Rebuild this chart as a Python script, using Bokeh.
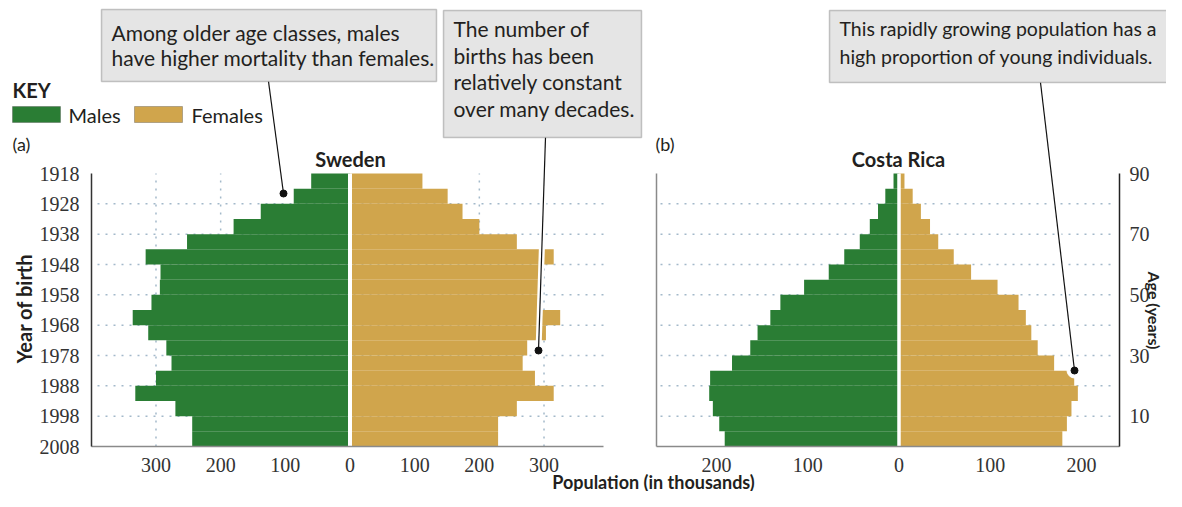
import math
from bokeh.plotting import figure
from bokeh.models import FixedTicker, LinearAxis, Range1d, BoxAnnotation, Label, ColumnDataSource
from bokeh.embed import file_html
from bokeh.resources import INLINE

# ---------------- data (thousands), age bins from youngest to oldest ----------------
age_lo = [0, 5, 10, 15, 20, 25, 30, 35, 40, 45, 50, 55, 60, 65, 70, 75, 80, 85]
age_hi = [5, 10, 15, 20, 25, 30, 35, 40, 45, 50, 55, 60, 65, 70, 75, 80, 85, 90]

sweden_males = [244, 244, 270, 332, 300, 276, 284, 312, 336, 307, 294, 293, 316, 252, 180, 138, 87, 60]
sweden_females = [229, 229, 258, 315, 286, 267, 274, 303, 325, 293, 293, 293, 315, 258, 200, 174, 151, 112]

costa_males = [191, 197, 204, 208, 207, 183, 163, 155, 141, 130, 104, 77, 60, 43, 32, 23, 15, 6]
costa_females = [179, 184, 189, 196, 192, 170, 152, 145, 139, 131, 108, 79, 60, 43, 34, 24, 15, 6]

year_ticks = [0, 10, 20, 30, 40, 50, 60, 70, 80, 90]
year_labels = ["2008", "1998", "1988", "1978", "1968", "1958", "1948", "1938", "1928", "1918"]
age_ticks = [10, 30, 50, 70, 90]
grid_ages = [10, 20, 30, 40, 50, 60, 70, 80]
sweden_xticks = [-300, -200, -100, 0, 100, 200, 300]
sweden_xgrid = [-300, -200, 200, 300]
costa_xticks = [-200, -100, 0, 100, 200]

# ---------------- style ----------------
GREEN = "#2a7d34"
TAN = "#d0a54c"
GRID = "#a3b9ca"
TXT = "#231f20"
SANS = "Lato"
SERIF = "Liberation Serif"

W, H = 1166, 491

# pixel <-> data mapping of the two panels (page pixels, origin top-left)
SW_X0, SW_K = 349.5, 0.6467   # Sweden: pixel of 0, pixels per thousand
CR_X0, CR_K = 898.5, 0.9125   # Costa Rica
Y0, YK = 446.0, 3.0333        # pixel of age 0, pixels per year
CR_RIGHT = 1119               # Costa Rica right axis position


def swx(px):
    return (px - SW_X0) / SW_K


def crx(px):
    return (px - CR_X0) / CR_K


def ay(py):
    return (Y0 - py) / YK


p = figure(width=W, height=H, x_range=Range1d(0, W), y_range=Range1d(H, 0),
           x_axis_location=None, y_axis_location=None, min_border=0,
           output_backend="svg", toolbar_location=None)
p.extra_x_ranges = {"swe": Range1d(swx(0), swx(W)), "cr": Range1d(crx(0), crx(W))}
p.extra_y_ranges = {"age": Range1d(ay(H), ay(0))}
p.grid.visible = False
p.outline_line_color = None
p.background_fill_color = "white"
p.border_fill_color = "white"

SW = dict(x_range_name="swe", y_range_name="age")
CR = dict(x_range_name="cr", y_range_name="age")

# ---------------- dotted grid lines (behind the bars) ----------------
gkw = dict(line_color=GRID, line_dash="2 6", line_width=1.5)
p.segment(x0=sweden_xgrid, y0=0, x1=sweden_xgrid, y1=90, **SW, **gkw)
p.segment(x0=swx(97), y0=grid_ages, x1=swx(603), y1=grid_ages, **SW, **gkw)
p.segment(x0=crx(660), y0=grid_ages, x1=crx(CR_RIGHT - 3), y1=grid_ages, **CR, **gkw)

# ---------------- bars ----------------
sw_src = ColumnDataSource(dict(lo=age_lo, hi=age_hi, m=[-v for v in sweden_males], f=sweden_females))
p.quad(left="m", right=0, bottom="lo", top="hi", source=sw_src, fill_color=GREEN, line_color=None, **SW)
p.quad(left=0, right="f", bottom="lo", top="hi", source=sw_src, fill_color=TAN, line_color=None, **SW)

cr_src = ColumnDataSource(dict(lo=age_lo, hi=age_hi, m=[-v for v in costa_males], f=costa_females))
p.quad(left="m", right=0, bottom="lo", top="hi", source=cr_src, fill_color=GREEN, line_color=None, **CR)
p.quad(left=0, right="f", bottom="lo", top="hi", source=cr_src, fill_color=TAN, line_color=None, **CR)

# white divider between males and females
p.segment(x0=0, y0=0, x1=0, y1=90, line_color="white", line_width=4, **SW)
p.segment(x0=0, y0=0, x1=0, y1=90, line_color="white", line_width=3.5, **CR)


# ---------------- axes ----------------
def axis_style(ax, color):
    ax.axis_line_color = color
    ax.axis_line_width = 1.5
    ax.major_tick_line_color = None
    ax.minor_tick_line_color = None
    ax.major_label_text_font = SERIF
    ax.major_label_text_font_size = "20px"
    ax.major_label_text_color = "#333333"


sw_left = LinearAxis(y_range_name="age", fixed_location=91, bounds=(0, 90),
                     ticker=FixedTicker(ticks=year_ticks),
                     major_label_overrides=dict(zip(year_ticks, year_labels)),
                     major_label_standoff=6)
axis_style(sw_left, "#333333")
p.add_layout(sw_left, "left")

sw_bottom = LinearAxis(x_range_name="swe", fixed_location=446, bounds=(swx(91), swx(603)),
                       ticker=FixedTicker(ticks=sweden_xticks),
                       major_label_overrides={t: str(abs(t)) for t in sweden_xticks},
                       major_label_standoff=5)
axis_style(sw_bottom, "#8a8a8a")
p.add_layout(sw_bottom, "below")

cr_left = LinearAxis(y_range_name="age", fixed_location=656, bounds=(0, 90),
                     ticker=FixedTicker(ticks=[]))
axis_style(cr_left, "#8a8a8a")
p.add_layout(cr_left, "left")

cr_right = LinearAxis(y_range_name="age", fixed_location=CR_RIGHT, bounds=(0, 90),
                      ticker=FixedTicker(ticks=age_ticks), major_label_standoff=4)
axis_style(cr_right, "#222222")
p.add_layout(cr_right, "right")

cr_bottom = LinearAxis(x_range_name="cr", fixed_location=446, bounds=(crx(656), crx(CR_RIGHT)),
                       ticker=FixedTicker(ticks=costa_xticks),
                       major_label_overrides={t: str(abs(t)) for t in costa_xticks},
                       major_label_standoff=5)
axis_style(cr_bottom, "#8a8a8a")
p.add_layout(cr_bottom, "below")


# ---------------- annotations (page-pixel positions) ----------------
def label(x, y, text, size="21px", bold=False, align="left", angle=0.0, baseline="middle"):
    p.add_layout(Label(x=x, y=y, text=text, text_font=SANS, text_font_size=size,
                       text_font_style="bold" if bold else "normal", text_color=TXT,
                       text_align=align, text_baseline=baseline, angle=angle))


def box(l, r, t, b):
    p.add_layout(BoxAnnotation(left=l, right=r, top=t, bottom=b, fill_color="#e5e5e5",
                               fill_alpha=1, line_color="#4a4a4a", line_width=1.5))


def leader(x0, y0, x1, y1):
    p.segment(x0=[x0], y0=[y0], x1=[x1], y1=[y1], line_color="white", line_width=6)
    p.scatter(x=[x1], y=[y1], size=15, color="white")
    p.segment(x0=[x0], y0=[y0], x1=[x1], y1=[y1], line_color="#111111", line_width=1.2)
    p.scatter(x=[x1], y=[y1], size=7, color="#111111")


leader(268, 81, 283, 193)
leader(545, 137, 538, 350)
leader(1040, 82, 1074, 370)

box(101, 436, 9, 81)
label(111, 32, "Among older age classes, males")
label(111, 57, "have higher mortality than females.")

box(443, 641, 10, 137)
label(453, 28, "The number of")
label(453, 55, "births has been")
label(453, 81, "relatively constant")
label(453, 108, "over many decades.")

box(829, W + 10, 10, 82)
label(839, 28, "This rapidly growing population has a", size="19.5px")
label(839, 56, "high proportion of young individuals.", size="19.5px")

label(12, 89, "KEY", size="20px", bold=True)
p.add_layout(BoxAnnotation(left=12, right=60, top=106, bottom=122, fill_color=GREEN,
                           fill_alpha=1, line_color="#333333", line_width=1))
label(68, 114, "Males", size="20px")
p.add_layout(BoxAnnotation(left=134, right=182, top=106, bottom=122, fill_color=TAN,
                           fill_alpha=1, line_color="#333333", line_width=1))
label(191, 114, "Females", size="20px")

label(12, 143, "(a)", size="18px")
label(655, 143, "(b)", size="18px")
label(350, 158, "Sweden", size="20px", bold=True, align="center")
label(898, 158, "Costa Rica", size="20px", bold=True, align="center")

label(23, 308, "Year of birth", size="20px", bold=True, align="center", angle=math.pi / 2)
label(1154, 310, "Age (years)", size="16px", bold=True, align="center", angle=-math.pi / 2)
label(653, 481, "Population (in thousands)", size="18px", bold=True, align="center")

open("out.html", "w").write(file_html(p, INLINE))
